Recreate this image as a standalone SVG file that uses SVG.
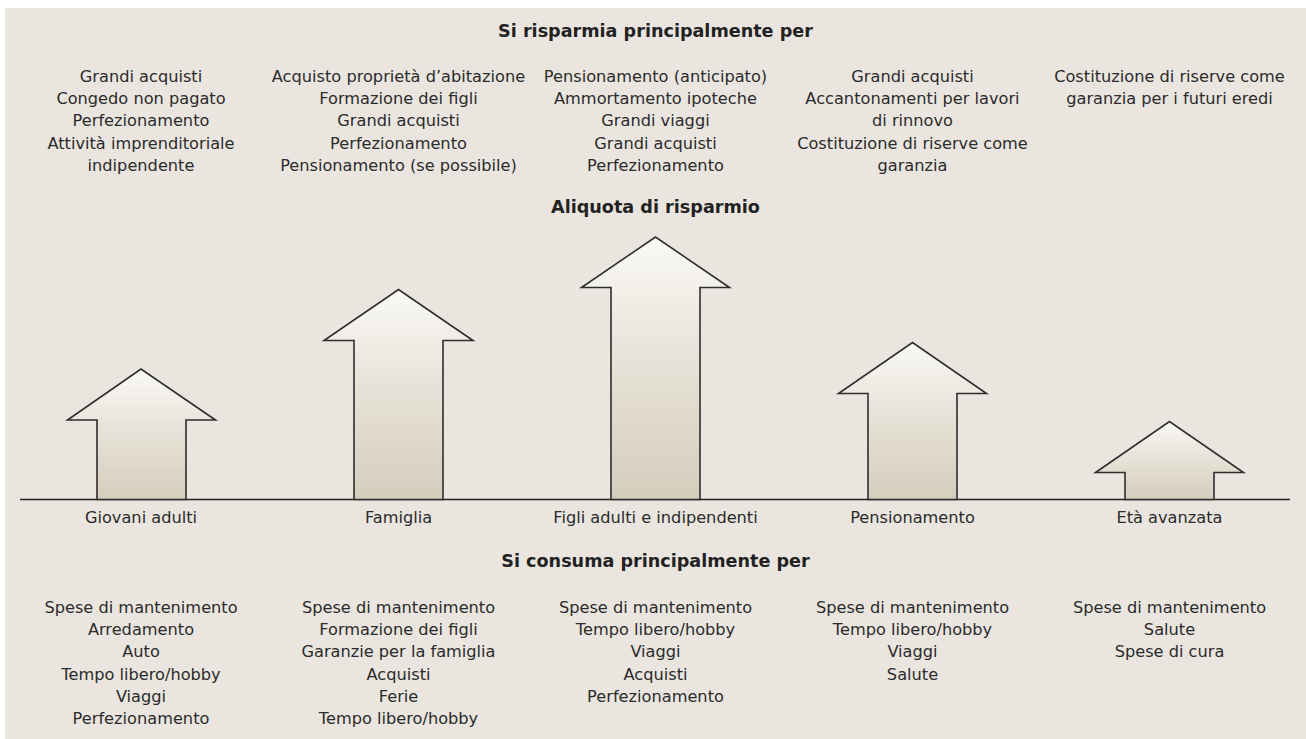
<svg xmlns="http://www.w3.org/2000/svg" width="1306" height="739" viewBox="0 0 1306 739">
<defs>
<linearGradient id="g" x1="0" y1="0" x2="0" y2="1">
<stop offset="0" stop-color="#faf9f6"/>
<stop offset="0.45" stop-color="#e8e3d9"/>
<stop offset="1" stop-color="#d5cdbc"/>
</linearGradient>
<style>
.t{font-family:"DejaVu Sans","Liberation Sans",sans-serif;font-size:16.2px;fill:#2b2b2b;text-anchor:middle}
.h{font-family:"DejaVu Sans","Liberation Sans",sans-serif;font-size:17.6px;font-weight:bold;fill:#222;text-anchor:middle}
.a{fill:url(#g);stroke:#2e2e2e;stroke-width:1.6;stroke-linejoin:miter}
</style>
</defs>
<rect width="1306" height="739" fill="#ffffff"/>
<rect x="5" y="8" width="1301" height="731" fill="#eae6df"/>

<g id="heading-top"><text class="h" x="655.5" y="36.5">Si risparmia principalmente per</text></g>
<g id="heading-rate"><text class="h" x="655.5" y="213.3">Aliquota di risparmio</text></g>
<g id="heading-bottom"><text class="h" x="655.5" y="566.7">Si consuma principalmente per</text></g>

<g id="save-1" class="t">
<text x="141" y="81.7">Grandi acquisti</text>
<text x="141" y="104">Congedo non pagato</text>
<text x="141" y="126.3">Perfezionamento</text>
<text x="141" y="148.7">Attività imprenditoriale</text>
<text x="141" y="171">indipendente</text>
</g>
<g id="save-2" class="t">
<text x="398.5" y="81.7">Acquisto proprietà d’abitazione</text>
<text x="398.5" y="104">Formazione dei figli</text>
<text x="398.5" y="126.3">Grandi acquisti</text>
<text x="398.5" y="148.7">Perfezionamento</text>
<text x="398.5" y="171">Pensionamento (se possibile)</text>
</g>
<g id="save-3" class="t">
<text x="655.5" y="81.7">Pensionamento (anticipato)</text>
<text x="655.5" y="104">Ammortamento ipoteche</text>
<text x="655.5" y="126.3">Grandi viaggi</text>
<text x="655.5" y="148.7">Grandi acquisti</text>
<text x="655.5" y="171">Perfezionamento</text>
</g>
<g id="save-4" class="t">
<text x="912.5" y="81.7">Grandi acquisti</text>
<text x="912.5" y="104">Accantonamenti per lavori</text>
<text x="912.5" y="126.3">di rinnovo</text>
<text x="912.5" y="148.7">Costituzione di riserve come</text>
<text x="912.5" y="171">garanzia</text>
</g>
<g id="save-5" class="t">
<text x="1169.5" y="81.7">Costituzione di riserve come</text>
<text x="1169.5" y="104">garanzia per i futuri eredi</text>
</g>

<g id="connectors">
<line x1="20" y1="499.5" x2="1290" y2="499.5" stroke="#222" stroke-width="1.6"/>
</g>

<g id="arrow-1"><polygon class="a" points="97,499.5 97,420 67.5,420 141,369 215.5,420 186,420 186,499.5"/></g>
<g id="arrow-2"><polygon class="a" points="354,499.5 354,340.5 324,340.5 398.5,289.5 473,340.5 443,340.5 443,499.5"/></g>
<g id="arrow-3"><polygon class="a" points="611,499.5 611,287.5 581.5,287.5 655.5,237 729.5,287.5 700,287.5 700,499.5"/></g>
<g id="arrow-4"><polygon class="a" points="868,499.5 868,393.5 838.5,393.5 912.5,342.5 986.5,393.5 957,393.5 957,499.5"/></g>
<g id="arrow-5"><polygon class="a" points="1125,499.5 1125,472.5 1095.5,472.5 1169.5,421.5 1243.5,472.5 1214,472.5 1214,499.5"/></g>

<g id="stage-1"><text class="t" x="141" y="522.7">Giovani adulti</text></g>
<g id="stage-2"><text class="t" x="398.5" y="522.7">Famiglia</text></g>
<g id="stage-3"><text class="t" x="655.5" y="522.7">Figli adulti e indipendenti</text></g>
<g id="stage-4"><text class="t" x="912.5" y="522.7">Pensionamento</text></g>
<g id="stage-5"><text class="t" x="1169.5" y="522.7">Età avanzata</text></g>

<g id="spend-1" class="t">
<text x="141" y="612.7">Spese di mantenimento</text>
<text x="141" y="635">Arredamento</text>
<text x="141" y="657.3">Auto</text>
<text x="141" y="679.7">Tempo libero/hobby</text>
<text x="141" y="702">Viaggi</text>
<text x="141" y="724.3">Perfezionamento</text>
</g>
<g id="spend-2" class="t">
<text x="398.5" y="612.7">Spese di mantenimento</text>
<text x="398.5" y="635">Formazione dei figli</text>
<text x="398.5" y="657.3">Garanzie per la famiglia</text>
<text x="398.5" y="679.7">Acquisti</text>
<text x="398.5" y="702">Ferie</text>
<text x="398.5" y="724.3">Tempo libero/hobby</text>
</g>
<g id="spend-3" class="t">
<text x="655.5" y="612.7">Spese di mantenimento</text>
<text x="655.5" y="635">Tempo libero/hobby</text>
<text x="655.5" y="657.3">Viaggi</text>
<text x="655.5" y="679.7">Acquisti</text>
<text x="655.5" y="702">Perfezionamento</text>
</g>
<g id="spend-4" class="t">
<text x="912.5" y="612.7">Spese di mantenimento</text>
<text x="912.5" y="635">Tempo libero/hobby</text>
<text x="912.5" y="657.3">Viaggi</text>
<text x="912.5" y="679.7">Salute</text>
</g>
<g id="spend-5" class="t">
<text x="1169.5" y="612.7">Spese di mantenimento</text>
<text x="1169.5" y="635">Salute</text>
<text x="1169.5" y="657.3">Spese di cura</text>
</g>
</svg>
